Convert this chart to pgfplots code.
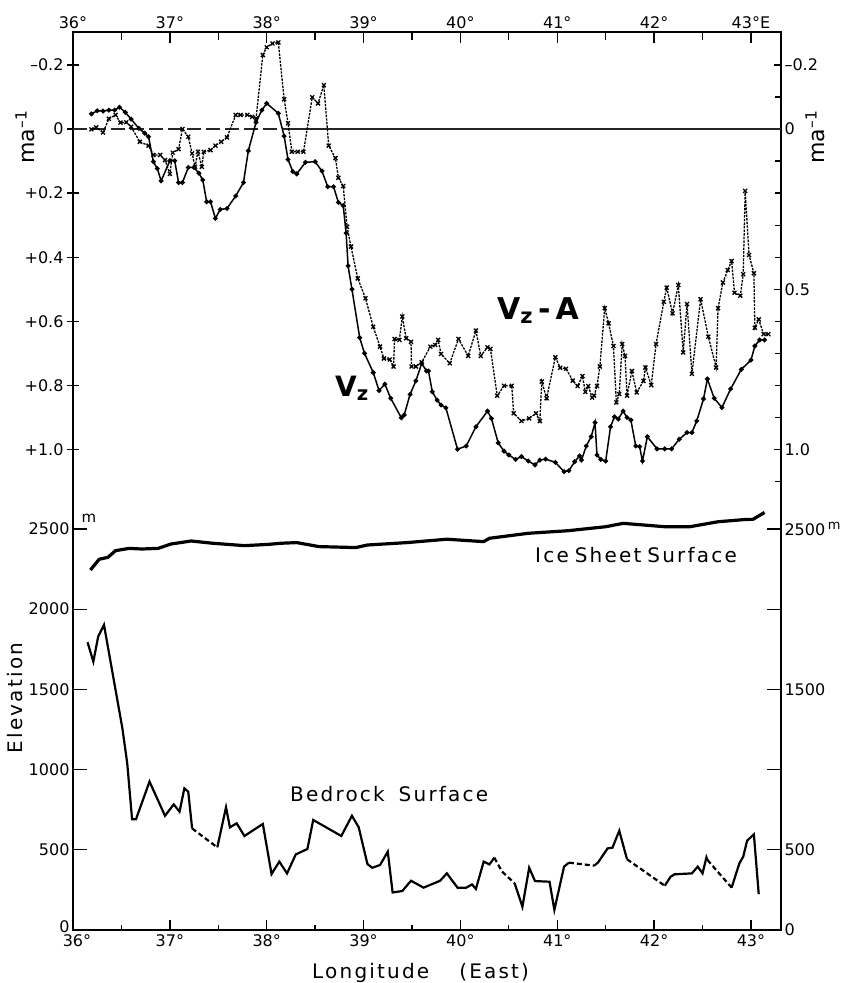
\documentclass[border=0pt]{standalone}
\usepackage{pgfplots}
\pgfplotsset{compat=1.18}
\usepackage{fontspec}
\setmainfont{DejaVu Sans}
\newfontfamily\spaced[LetterSpace=11]{DejaVu Sans}

\pgfplotstableread{
lon v
36.19 -0.047
36.25 -0.057
36.31 -0.056
36.37 -0.059
36.43 -0.059
36.48 -0.068
36.54 -0.052
36.60 -0.031
36.68 -0.002
36.74 0.013
36.78 0.024
36.83 0.102
36.87 0.123
36.91 0.162
37.00 0.099
37.05 0.099
37.09 0.167
37.13 0.167
37.19 0.120
37.25 0.120
37.30 0.138
37.34 0.159
37.38 0.227
37.42 0.227
37.47 0.279
37.52 0.251
37.59 0.248
37.68 0.209
37.76 0.167
37.81 0.068
37.89 -0.021
37.95 -0.059
38.00 -0.080
38.12 -0.049
38.18 0.022
38.22 0.095
38.27 0.133
38.31 0.140
38.40 0.104
38.50 0.102
38.57 0.131
38.63 0.180
38.69 0.180
38.74 0.229
38.79 0.239
38.82 0.325
38.84 0.427
38.88 0.500
38.96 0.651
39.01 0.700
39.10 0.760
39.16 0.816
39.22 0.796
39.28 0.840
39.39 0.901
39.42 0.892
39.48 0.828
39.54 0.786
39.60 0.731
39.65 0.755
39.67 0.755
39.71 0.820
39.76 0.846
39.80 0.861
39.85 0.870
39.97 0.999
40.06 0.989
40.16 0.929
40.28 0.880
40.32 0.903
40.39 0.979
40.45 1.005
40.50 1.017
40.57 1.031
40.63 1.022
40.70 1.036
40.77 1.048
40.82 1.033
40.88 1.030
40.98 1.040
41.07 1.069
41.12 1.066
41.18 1.038
41.23 1.020
41.25 1.033
41.30 0.989
41.35 0.960
41.39 0.916
41.41 1.017
41.45 1.031
41.50 1.036
41.55 0.929
41.59 0.898
41.63 0.905
41.68 0.880
41.72 0.900
41.76 0.908
41.81 0.989
41.85 0.991
41.88 1.036
41.93 0.960
42.03 0.998
42.11 0.998
42.18 0.998
42.26 0.968
42.34 0.947
42.39 0.947
42.44 0.911
42.51 0.842
42.55 0.780
42.62 0.840
42.70 0.869
42.79 0.811
42.90 0.750
43.00 0.721
43.04 0.677
43.09 0.658
43.14 0.658
}\vz

\pgfplotstableread{
lon v
36.19 0.001
36.24 -0.005
36.31 0.011
36.37 -0.032
36.44 -0.044
36.49 -0.020
36.55 -0.021
36.60 -0.007
36.69 0.040
36.78 0.052
36.83 0.081
36.90 0.081
36.95 0.097
37.00 0.140
37.03 0.074
37.09 0.063
37.13 0.000
37.19 0.024
37.23 0.076
37.26 0.118
37.29 0.071
37.33 0.118
37.35 0.071
37.42 0.066
37.47 0.052
37.53 0.040
37.59 0.026
37.68 -0.044
37.73 -0.044
37.80 -0.044
37.85 -0.038
37.89 -0.033
37.96 -0.231
38.00 -0.255
38.06 -0.267
38.12 -0.270
38.18 -0.093
38.22 -0.018
38.26 0.071
38.32 0.071
38.38 0.071
38.47 -0.099
38.53 -0.080
38.59 -0.137
38.64 0.052
38.71 0.091
38.74 0.152
38.79 0.178
38.83 0.305
38.87 0.367
38.94 0.466
39.02 0.528
39.10 0.617
39.17 0.679
39.21 0.716
39.27 0.719
39.31 0.741
39.32 0.655
39.37 0.658
39.40 0.585
39.44 0.653
39.49 0.664
39.495 0.741
39.54 0.741
39.60 0.728
39.69 0.679
39.74 0.674
39.77 0.658
39.80 0.702
39.89 0.731
39.98 0.655
40.08 0.708
40.16 0.629
40.21 0.708
40.28 0.681
40.31 0.686
40.38 0.832
40.45 0.801
40.53 0.801
40.55 0.887
40.63 0.911
40.71 0.903
40.78 0.887
40.82 0.911
40.84 0.788
40.89 0.840
40.98 0.712
41.03 0.745
41.09 0.748
41.16 0.785
41.21 0.802
41.26 0.771
41.29 0.820
41.32 0.802
41.36 0.838
41.38 0.832
41.41 0.802
41.44 0.741
41.49 0.559
41.53 0.606
41.58 0.677
41.61 0.853
41.64 0.827
41.67 0.671
41.70 0.708
41.72 0.832
41.77 0.755
41.82 0.822
41.89 0.786
41.91 0.744
41.97 0.799
42.02 0.671
42.10 0.539
42.13 0.495
42.19 0.575
42.25 0.487
42.30 0.697
42.34 0.546
42.39 0.764
42.48 0.531
42.56 0.648
42.64 0.744
42.66 0.559
42.71 0.479
42.76 0.440
42.80 0.412
42.83 0.511
42.89 0.520
42.92 0.453
42.94 0.193
42.98 0.393
43.03 0.450
43.04 0.620
43.08 0.594
43.13 0.640
43.18 0.640
}\vza

\pgfplotstableread{
lon e
36.18 2244
36.27 2311
36.36 2323
36.44 2365
36.58 2379
36.71 2375
36.88 2379
37.01 2406
37.22 2425
37.44 2411
37.77 2396
38.02 2404
38.15 2411
38.31 2415
38.54 2390
38.92 2384
39.04 2400
39.45 2415
39.86 2436
40.24 2421
40.30 2442
40.70 2473
41.11 2489
41.50 2514
41.68 2535
42.11 2514
42.37 2514
42.66 2545
42.94 2559
43.02 2560
43.14 2603
}\ice

\pgfplotstableread{
lon e
36.15 1794
36.21 1673
36.26 1829
36.32 1902
36.51 1257
36.56 1039
36.61 690
36.65 690
36.79 925
36.95 712
37.04 783
37.10 738
37.15 883
37.19 862
37.23 633
}\bedA
\pgfplotstableread{
lon e
37.49 515
37.58 765
37.62 640
37.69 665
37.77 586
37.96 661
38.05 349
38.13 426
38.21 353
38.30 471
38.42 505
38.48 686
38.77 586
38.88 712
38.95 640
39.04 411
39.09 388
39.17 405
39.25 488
39.30 234
39.40 243
39.49 307
39.62 264
39.79 307
39.86 353
39.97 264
40.06 264
40.12 284
40.16 256
40.24 426
40.30 409
40.35 451
}\bedB
\pgfplotstableread{
lon e
40.56 291
40.64 145
40.71 388
40.77 305
40.92 301
40.97 125
41.07 395
41.12 420
}\bedC
\pgfplotstableread{
lon e
41.38 401
41.42 420
41.52 509
41.57 513
41.64 619
41.72 441
}\bedD
\pgfplotstableread{
lon e
42.11 276
42.17 332
42.21 347
42.39 353
42.45 395
42.50 353
42.54 453
42.55 437
}\bedE
\pgfplotstableread{
lon e
42.80 264
42.88 415
42.92 457
42.96 557
43.03 596
43.08 224
}\bedF
\pgfplotstableread{
lon e
37.23 633
37.49 515
}\dashA
\pgfplotstableread{
lon e
40.35 451
40.43 364
40.56 291
}\dashB
\pgfplotstableread{
lon e
41.12 420
41.38 401
}\dashC
\pgfplotstableread{
lon e
41.72 441
42.11 276
}\dashD
\pgfplotstableread{
lon e
42.55 437
42.80 264
}\dashE

\begin{document}
\begin{tikzpicture}[x=1pt,y=1pt]
\path[use as bounding box] (-73,-53) rectangle (770,930);
\pgfplotsset{
  base/.style={width=708pt,height=898pt,scale only axis,at={(0,0)},anchor=south west,
    xmin=36,xmax=43.31,
    axis line style={draw=none},
    tick style={black,line width=1.3pt},
    tick label style={font=\fontsize{16}{18}\selectfont},
    /pgf/number format/assume math mode=true,
    /pgf/number format/1000 sep={}},
  vel/.style={base,y dir=reverse,ymin=-0.3027,ymax=2.4992,xtick=\empty},
  elev/.style={base,ymin=0,ymax=5598,xtick=\empty},
}
% frame + top x ticks
\begin{axis}[base,ymin=0,ymax=1,ytick=\empty,
  axis line style={draw=black,line width=1.8pt},
  xtick={36,...,43},minor xtick={36.5,37.5,...,42.5},
  xtick pos=right,xticklabel pos=right,tick align=inside,
  major tick length=11pt,minor tick length=8pt,
  xticklabels={36°,37°,38°,39°,40°,41°,42°,43°E}]
\end{axis}
% bottom x ticks
\begin{axis}[base,ymin=0,ymax=1,ytick=\empty,
  xtick={36,...,43},minor xtick={36.5,37.5,...,42.5},
  xtick pos=left,xticklabel pos=left,tick align=inside,
  major tick length=10pt,minor tick length=5pt,
  xticklabel style={yshift=-1pt},
  xticklabels={\hspace{8pt}36°,37°,38°,39°,40°,41°,42°,43°}]
\end{axis}
% right velocity ticks
\begin{axis}[vel,ytick pos=right,yticklabel pos=right,tick align=inside,
  ytick={-0.2,0,0.5,1.0},yticklabels={–0.2,0,0.5,1.0},
  minor ytick={-0.1,0.1,0.2,0.3,0.4,0.6,0.7,0.8,0.9,1.1},
  major tick length=7pt,minor tick length=6pt]
\end{axis}
% left velocity minor ticks
\begin{axis}[vel,ytick pos=left,tick align=inside,ytick=\empty,
  minor ytick={-0.1,0.1,0.3,0.5,0.7,0.9,1.1},
  minor tick length=7pt]
\end{axis}
% left velocity major ticks + data
\begin{axis}[vel,ytick pos=left,yticklabel pos=left,tick align=center,
  ytick={-0.2,0,0.2,0.4,0.6,0.8,1.0},
  yticklabels={–0.2,0,+0.2,+0.4,+0.6,+0.8,+1.0},
  major tick length=12pt]
\addplot[black!85,line width=1.3pt,dash pattern=on 14pt off 5pt] coordinates {(36,0) (38.3,0)};
\addplot[black!85,line width=1.3pt] coordinates {(38.3,0) (43.31,0)};
\addplot[black,line width=1.3pt,dash pattern=on 2.4pt off 1.2pt,mark=x,mark size=2.8pt,
  mark options={solid,line width=1.3pt}] table[x=lon,y=v]{\vza};
\addplot[black,line width=1.5pt,mark=*,mark size=1.6pt] table[x=lon,y=v]{\vz};
\end{axis}
% right elevation ticks
\begin{axis}[elev,ytick pos=right,yticklabel pos=right,tick align=inside,
  ytick={0,500,1500,2500},
  yticklabels={0,500,1500,{2500\,\raisebox{6pt}{\fontsize{13}{13}\selectfont m}}},
  minor ytick={1000,2000},
  major tick length=14pt,minor tick length=14pt]
\end{axis}
% left elevation ticks + data
\begin{axis}[elev,ytick pos=left,yticklabel pos=left,tick align=inside,
  ytick={0,500,...,2500},
  yticklabels={\raisebox{7pt}{0},500,1000,1500,2000,2500},
  major tick length=14pt]
\addplot[black,line width=3.2pt] table[x=lon,y=e]{\ice};
\addplot[black,line width=2.2pt] table[x=lon,y=e]{\bedA};
\addplot[black,line width=2.2pt] table[x=lon,y=e]{\bedB};
\addplot[black,line width=2.2pt] table[x=lon,y=e]{\bedC};
\addplot[black,line width=2.2pt] table[x=lon,y=e]{\bedD};
\addplot[black,line width=2.2pt] table[x=lon,y=e]{\bedE};
\addplot[black,line width=2.2pt] table[x=lon,y=e]{\bedF};
\addplot[black,line width=2.2pt,dash pattern=on 5pt off 3pt] table[x=lon,y=e]{\dashA};
\addplot[black,line width=2.2pt,dash pattern=on 5pt off 3pt] table[x=lon,y=e]{\dashB};
\addplot[black,line width=2.2pt,dash pattern=on 5pt off 3pt] table[x=lon,y=e]{\dashC};
\addplot[black,line width=2.2pt,dash pattern=on 5pt off 3pt] table[x=lon,y=e]{\dashD};
\addplot[black,line width=2.2pt,dash pattern=on 5pt off 3pt] table[x=lon,y=e]{\dashE};
\end{axis}
% text labels
\node[rotate=90,font=\fontsize{22}{22}\selectfont] at (-48,793) {ma\textsuperscript{–1}};
\node[rotate=90,font=\fontsize{22}{22}\selectfont] at (742,793) {ma\textsuperscript{–1}};
\node[rotate=90,font=\fontsize{20}{20}\selectfont\spaced] at (-58,232) {Elevation};
\node[font=\fontsize{15}{15}\selectfont] at (16,412) {m};
\node[anchor=base west,inner sep=0pt,font=\fontsize{30}{30}\selectfont\bfseries] at (424,610) {V\textsubscript{z}\,-\,A};
\node[anchor=base west,inner sep=0pt,font=\fontsize{28}{28}\selectfont\bfseries] at (262,533) {V\textsubscript{z}};
\node[anchor=base west,inner sep=0pt,font=\fontsize{20}{20}\selectfont\spaced] at (462,367) {Ice\hspace{6pt}Sheet\hspace{6pt}Surface};
\node[anchor=base west,inner sep=0pt,font=\fontsize{20}{20}\selectfont\spaced] at (217,128) {Bedrock\hspace{14pt}Surface};
\node[anchor=base west,inner sep=0pt,font=\fontsize{20}{20}\selectfont\spaced] at (239,-48) {Longitude\hspace{30pt}(East)};
\end{tikzpicture}
\end{document}
